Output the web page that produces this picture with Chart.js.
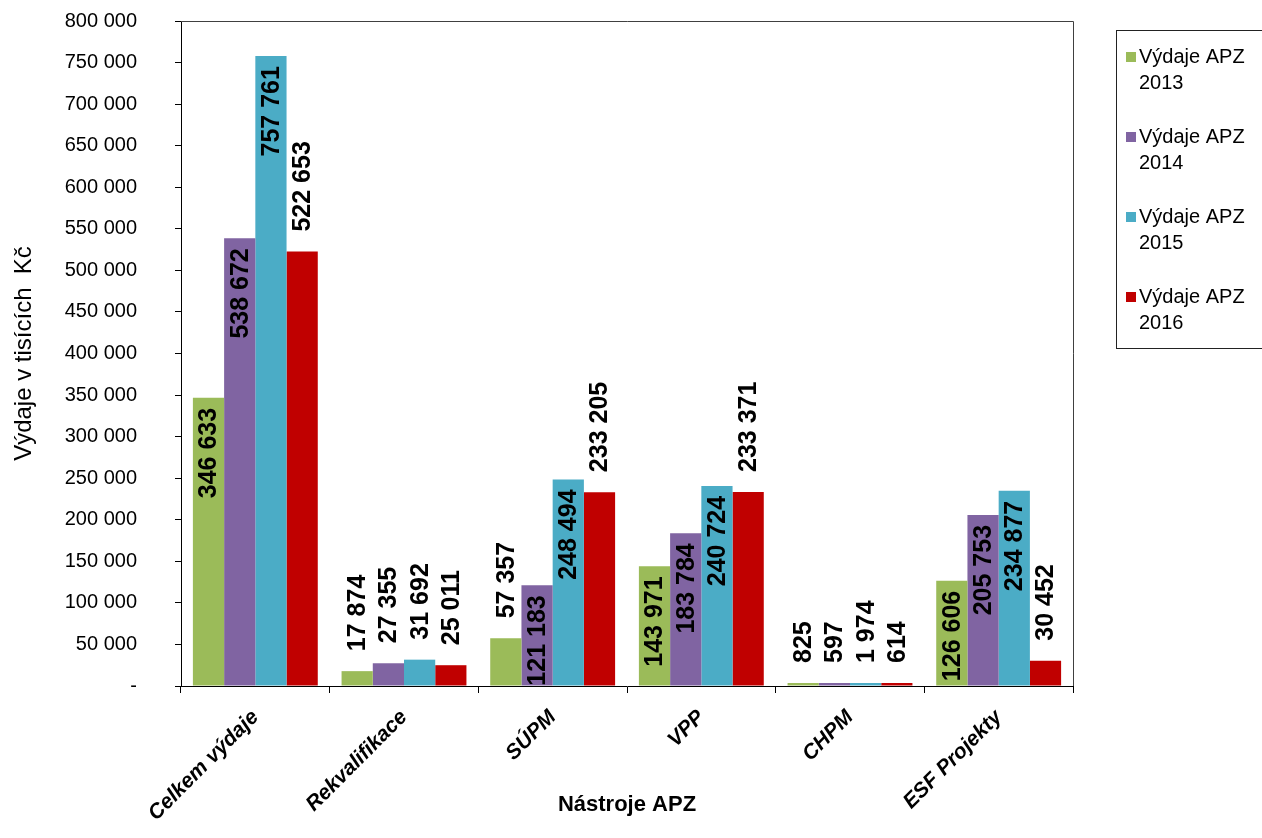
<!DOCTYPE html>
<html>
<head>
<meta charset="utf-8">
<script src="https://cdn.jsdelivr.net/npm/chart.js@4.4.1/dist/chart.umd.min.js"></script>
<style>
  html, body { margin: 0; padding: 0; background: #fff; }
  #wrap { width: 1262px; height: 838px; }
</style>
</head>
<body>
<div id="wrap"><canvas id="chart"></canvas></div>
<script>
const categories = ["Celkem výdaje", "Rekvalifikace", "SÚPM", "VPP", "CHPM", "ESF Projekty"];
const vydaje2013 = [346633, 17874, 57357, 143971, 825, 126606];
const vydaje2014 = [538672, 27355, 121183, 183784, 597, 205753];
const vydaje2015 = [757761, 31692, 248494, 240724, 1974, 234877];
const vydaje2016 = [522653, 25011, 233205, 233371, 614, 30452];
const seriesLabels = ["Výdaje APZ 2013", "Výdaje APZ 2014", "Výdaje APZ 2015", "Výdaje APZ 2016"];
const colors = ["#9BBB59", "#8064A2", "#4BACC6", "#C00000"];

const fmt = (v) => String(v).replace(/\B(?=(\d{3})+(?!\d))/g, " ");

// rotated value labels, inside the bar end when they fit, else above it
const valueLabels = {
  id: "valueLabels",
  afterDatasetsDraw(chart) {
    const ctx = chart.ctx;
    ctx.save();
    ctx.font = "bold 25px 'Liberation Sans', Arial, sans-serif";
    ctx.fillStyle = "#000";
    ctx.textBaseline = "middle";
    chart.data.datasets.forEach((ds, i) => {
      const meta = chart.getDatasetMeta(i);
      meta.data.forEach((bar, j) => {
        const text = fmt(ds.data[j]);
        const w = ctx.measureText(text).width;
        const h = bar.base - bar.y;
        const inside = ds.labelInside && h > w + 4;
        ctx.save();
        if (inside) {
          ctx.translate(bar.x, bar.y + 10);
          ctx.rotate(-Math.PI / 2);
          ctx.textAlign = "right";
        } else {
          ctx.translate(bar.x, bar.y - 20);
          ctx.rotate(-Math.PI / 2);
          ctx.textAlign = "left";
        }
        ctx.fillText(text, 0, 1);
        ctx.restore();
      });
    });
    ctx.restore();
  }
};

// frame around plot and boxed legend on the right
const frameAndLegend = {
  id: "frameAndLegend",
  afterDraw(chart) {
    const { ctx, chartArea: a } = chart;
    ctx.save();
    ctx.strokeStyle = "#404040";
    ctx.lineWidth = 1;
    ctx.beginPath();
    ctx.moveTo(a.left, a.top + 0.5);
    ctx.lineTo(a.right + 0.5, a.top + 0.5);
    ctx.lineTo(a.right + 0.5, a.bottom);
    ctx.stroke();

    ctx.strokeStyle = "#222";
    ctx.strokeRect(1116.5, 30.5, 160, 318);
    ctx.font = "20px 'Liberation Sans', Arial, sans-serif";
    ctx.textBaseline = "middle";
    ctx.fillStyle = "#000";
    chart.data.datasets.forEach((ds, i) => {
      const y = 57 + i * 80;
      ctx.fillStyle = ds.backgroundColor;
      ctx.fillRect(1126, y - 5, 10, 10);
      ctx.fillStyle = "#000";
      const parts = ds.label.split(" ");
      ctx.fillText(parts.slice(0, 2).join(" "), 1139, y);
      ctx.fillText(parts[2], 1139, y + 26);
    });
    ctx.restore();
  }
};

const datasets = [vydaje2013, vydaje2014, vydaje2015, vydaje2016].map((d, i) => ({
  label: seriesLabels[i],
  data: d,
  backgroundColor: colors[i],
  borderWidth: 0,
  minBarLength: 3,
  labelInside: i < 3
}));

new Chart(document.getElementById("chart"), {
  type: "bar",
  data: { labels: categories, datasets: datasets },
  options: {
    responsive: true,
    maintainAspectRatio: false,
    animation: false,
    layout: { padding: { left: 0, right: 189, top: 21, bottom: 0 } },
    datasets: { bar: { categoryPercentage: 0.84, barPercentage: 1.0 } },
    plugins: { legend: { display: false }, tooltip: { enabled: false } },
    scales: {
      x: {
        offset: true,
        grid: { offset: true, drawOnChartArea: false, drawTicks: true, tickLength: 7, color: "#000" },
        border: { color: "#000", width: 1 },
        ticks: {
          autoSkip: false,
          maxRotation: 45,
          minRotation: 45,
          padding: 12,
          color: "#000",
          font: { family: "'Liberation Sans', Arial, sans-serif", size: 21, weight: "bold", style: "italic" }
        },
        title: {
          display: true,
          text: "Nástroje APZ",
          color: "#000",
          padding: { top: 0, bottom: 20 },
          font: { family: "'Liberation Sans', Arial, sans-serif", size: 22, weight: "bold" }
        },
        afterFit(scale) { scale.height = 152; }
      },
      y: {
        min: 0,
        max: 800000,
        grid: { drawOnChartArea: false, drawTicks: true, tickLength: 6, color: "#000" },
        border: { color: "#000", width: 1 },
        ticks: {
          stepSize: 50000,
          padding: 38,
          color: "#000",
          font: { family: "'Liberation Sans', Arial, sans-serif", size: 20 },
          callback: (v) => (v === 0 ? "-" : fmt(v))
        },
        title: {
          display: true,
          text: "Výdaje v tisících  Kč",
          color: "#000",
          padding: { top: 10, bottom: 0 },
          font: { family: "'Liberation Sans', Arial, sans-serif", size: 24 }
        },
        afterFit(scale) {
          scale.width = 181;
          scale.paddingTop = 10;
          scale.paddingBottom = 10;
        }
      }
    }
  },
  plugins: [valueLabels, frameAndLegend]
});
</script>
</body>
</html>
